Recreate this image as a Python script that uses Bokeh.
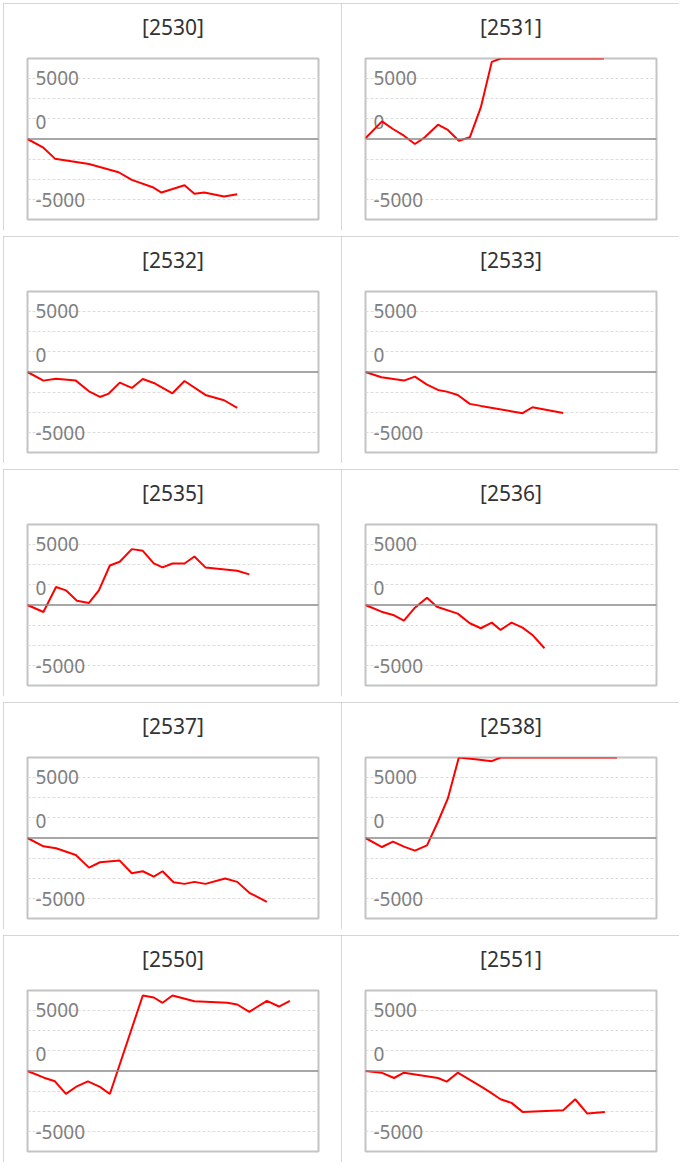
from bokeh.plotting import figure
from bokeh.models import Range1d, FixedTicker, Span, ColumnDataSource, Title
from bokeh.layouts import row, column
from bokeh.core.properties import value
from bokeh.embed import file_html
from bokeh.resources import INLINE

codes = ["2530", "2531", "2532", "2533", "2535", "2536", "2537", "2538", "2550", "2551"]

x_2530 = [0, 1.4, 2.5, 5.6, 8.3, 9.5, 11.4, 12.2, 14.3, 15.2, 16.1, 17.9, 19.1]
y_2530 = [0, -1030, -2440, -3100, -4130, -5080, -5990, -6650, -5740, -6810, -6650, -7140, -6860]

x_2531 = [0, 1.5, 2.5, 3.5, 4.5, 5.4, 6.6, 7.5, 8.5, 9.5, 10.5, 11.5, 12.3, 14.3, 16.2, 18.0, 20.2, 21.7]
y_2531 = [100, 2190, 1240, 410, -620, 210, 1780, 1120, -210, 210, 3920, 9580, 10000, 10000, 10000, 10000, 10000, 10000]

x_2532 = [0, 1.45, 2.6, 4.4, 5.6, 6.6, 7.4, 8.4, 9.5, 10.5, 11.5, 13.2, 14.3, 16.2, 17.9, 19.1]
y_2532 = [0, -1070, -830, -1070, -2400, -3100, -2680, -1320, -1980, -870, -1360, -2640, -1120, -2850, -3510, -4460]

x_2533 = [0, 1.45, 3.5, 4.5, 5.6, 6.6, 7.4, 8.4, 9.5, 10.5, 14.3, 15.2, 18.0]
y_2533 = [0, -660, -1070, -580, -1570, -2230, -2440, -2850, -3960, -4210, -5120, -4380, -5080]

x_2535 = [0, 1.45, 2.6, 3.5, 4.5, 5.6, 6.5, 7.5, 8.4, 9.5, 10.5, 11.5, 12.3, 13.2, 14.3, 15.2, 16.2, 19.1, 20.2]
y_2535 = [0, -870, 2230, 1820, 540, 250, 1820, 4910, 5370, 6940, 6730, 5160, 4670, 5160, 5160, 6030, 4670, 4250, 3800]

x_2536 = [0, 1.45, 2.6, 3.5, 4.5, 5.6, 6.5, 8.4, 9.5, 10.5, 11.5, 12.3, 13.3, 14.3, 15.2, 16.3]
y_2536 = [0, -830, -1280, -1940, -330, 910, -210, -1070, -2270, -2890, -2190, -3100, -2190, -2810, -3720, -5370]

x_2537 = [0, 1.45, 2.6, 4.4, 5.6, 6.6, 8.4, 9.5, 10.5, 11.5, 12.3, 13.3, 14.3, 15.2, 16.2, 18.0, 19.1, 20.2, 21.8]
y_2537 = [0, -1030, -1280, -2110, -3680, -3010, -2810, -4380, -4130, -4790, -4130, -5490, -5700, -5450, -5700, -5040, -5450, -6810, -7930]

x_2538 = [0, 1.5, 2.5, 3.5, 4.5, 5.6, 6.6, 7.5, 8.5, 10.2, 11.5, 12.3, 14.3, 16.2, 18.0, 20.2, 22.9]
y_2538 = [0, -1120, -450, -1070, -1570, -910, 2020, 4910, 10000, 9750, 9540, 10000, 10000, 10000, 10000, 10000, 10000]

x_2550 = [0, 1.5, 2.5, 3.5, 4.5, 5.5, 6.6, 7.5, 10.5, 11.5, 12.3, 13.2, 15.2, 18.2, 19.1, 20.2, 21.8, 22.9, 23.9]
y_2550 = [0, -830, -1280, -2850, -1900, -1280, -1980, -2850, 9380, 9130, 8470, 9380, 8670, 8470, 8260, 7350, 8710, 8010, 8710]

x_2551 = [0, 1.45, 2.6, 3.5, 6.6, 7.4, 8.4, 10.5, 11.3, 12.3, 13.3, 14.3, 18.0, 19.1, 20.2, 21.8]
y_2551 = [0, -210, -870, -210, -870, -1320, -210, -1900, -2600, -3510, -3960, -5080, -4870, -3510, -5290, -5080]

tick_values = [7500, 2500, -7500]
tick_labels = ["5000", "0", "-5000"]
grid_values = [-7500, -5000, -2500, 2500, 5000, 7500]

series_x = [x_2530, x_2531, x_2532, x_2533, x_2535, x_2536, x_2537, x_2538, x_2550, x_2551]
series_y = [y_2530, y_2531, y_2532, y_2533, y_2535, y_2536, y_2537, y_2538, y_2550, y_2551]


def make_panel(code, xv, yv):
    p = figure(width=338, height=227, output_backend="svg", toolbar_location=None, tools="",
               x_range=Range1d(0, 26.5), y_range=Range1d(-10000, 10000),
               min_border_left=24, min_border_right=23, min_border_top=55, min_border_bottom=11,
               background_fill_color="white", border_fill_color="white",
               outline_line_color="#c4c4c4", outline_line_width=2)
    # spacer between the title and the plot frame
    p.add_layout(Title(text=" ", text_font_size="2px", standoff=13), "above")
    p.title.text = "[" + code + "]"
    p.title.align = "center"
    p.title.vertical_align = "middle"
    p.title.standoff = 0
    p.title.text_font = "Noto Sans"
    p.title.text_font_size = "21px"
    p.title.text_font_style = "normal"
    p.title.text_color = "#333333"
    p.xaxis.visible = False
    p.yaxis.visible = False
    p.xgrid.visible = False
    p.ygrid.ticker = FixedTicker(ticks=grid_values)
    p.ygrid.grid_line_color = "#dcdcdc"
    p.ygrid.grid_line_dash = "3 2"
    p.ygrid.grid_line_width = 1
    p.add_layout(Span(location=0, dimension="width", line_color="#8a8a8a", line_width=1.5))
    src = ColumnDataSource(dict(x=[0] * len(tick_values), y=tick_values, text=tick_labels,
                                dy=[-1, 3, 1]))
    p.text(x="x", y="y", text="text", source=src, x_offset=8, y_offset="dy",
           text_font=value("Noto Sans"), text_font_size="19px", text_color="#808080",
           text_baseline="middle", text_align="left")
    p.line(xv, yv, line_color="#ff0000", line_width=2)
    p.styles = {"outline": "2px solid #c8c8c8", "outline-offset": "-2px"}
    return p


panels = [make_panel(c, xv, yv) for c, xv, yv in zip(codes, series_x, series_y)]
rows = [row(panels[i], panels[i + 1], spacing=0) for i in range(0, len(panels), 2)]
layout = column(*rows, spacing=6)
layout.margin = (3, 0, 0, 3)

open("out.html", "w").write(file_html(layout, INLINE))
